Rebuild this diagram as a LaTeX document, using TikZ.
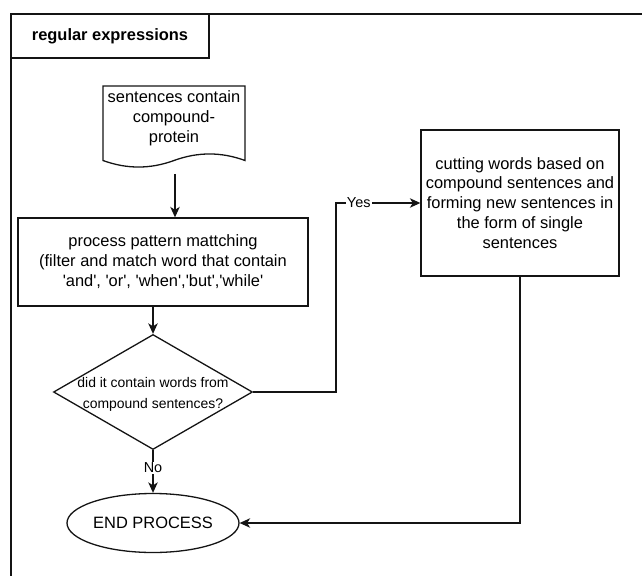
\documentclass[tikz,border=0pt]{standalone}
\usepackage{fontspec}
\newfontfamily\flowfont{Liberation Sans}
\usepackage{tikz}
\usetikzlibrary{arrows.meta,shapes.geometric}
\definecolor{fcLine}{RGB}{20,20,20}

\begin{document}
\begin{tikzpicture}[x=1bp, y=-1bp,
  every node/.style={font=\flowfont\fontsize{16.5}{20}\selectfont, text=black},
  box/.style={draw=fcLine, line width=1.3bp, align=center, inner sep=0pt},
  arr/.style={draw=fcLine, line width=1.3bp, -{Stealth[length=10.5bp,width=9.5bp,inset=3bp]}},
  lbl/.style={fill=white, inner sep=1bp, font=\flowfont\fontsize{14.5}{16}\selectfont}]
  \useasboundingbox (0,0) rectangle (642,576);

  % Frame and title
  \draw[fcLine, line width=1.3bp] (11,576) -- (11,14) -- (642,14);
  \node[box, font=\flowfont\bfseries\fontsize{16.5}{20}\selectfont, minimum width=198bp, minimum height=44bp] (title) at (110,36) {regular expressions};

  % Input document
  \draw[fcLine, line width=1.3bp] (103,160.5) -- (103,86) -- (245,86) -- (245,160.5)
    .. controls (221.3,151.8) and (197.7,151.8) .. (174,160.5)
    .. controls (150.3,169.2) and (126.7,169.2) .. (103,160.5) -- cycle;
  \node[align=center] (doc) at (174,118) {sentences contain\\compound-\\protein};
  \coordinate (docbot) at (175,174);

  % Pattern matching
  \node[box, minimum width=290bp, minimum height=88bp] (proc) at (163,262) {process pattern mattching\\(filter and match word that contain\\'and', 'or', 'when','but','while'};

  % Decision
  \node[box, diamond, minimum width=199bp, minimum height=115bp] (dec) at (153,392) {};
  \node[align=center, font=\flowfont\fontsize{14}{21}\selectfont] (dectext) at (153,394) {did it contain words from\\compound sentences?};

  % Cutting step
  \node[box, minimum width=198bp, minimum height=146bp] (cut) at (520,203) {cutting words based on\\compound sentences and\\forming new sentences in\\the form of single\\sentences};
  \coordinate (yesknee) at (336,203);

  % End
  \node[box, ellipse, minimum width=172bp, minimum height=59bp] (endp) at (153,523) {END PROCESS};

  % Connectors
  \draw[arr] (docbot) -- (docbot |- proc.north);
  \draw[arr] (dec.north |- proc.south) -- (dec.north);
  \draw[arr] (dec.east) -| (yesknee) -- node[lbl, pos=0.27] {Yes} (cut.west);
  \draw[arr] (dec.south) -- node[lbl, pos=0.42] {No} (endp.north);
  \draw[arr] (cut.south) |- (endp.east);
\end{tikzpicture}
\end{document}
